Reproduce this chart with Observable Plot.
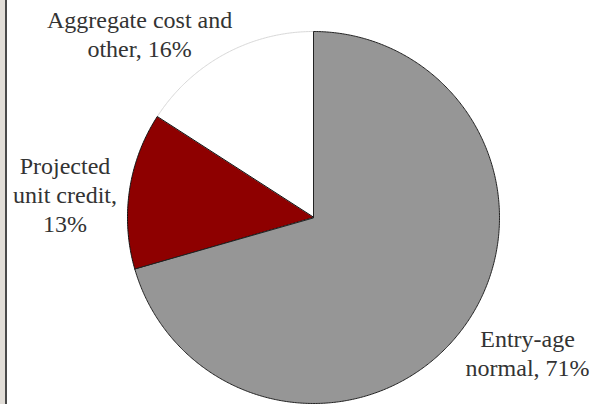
<!DOCTYPE html>
<html>
<head>
<meta charset="utf-8">
<script src="https://cdn.jsdelivr.net/npm/d3@7"></script>
<script src="https://cdn.jsdelivr.net/npm/@observablehq/plot@0.6"></script>
<style>
  html, body { margin: 0; padding: 0; background: #fff; }
  #wrap { position: relative; width: 594px; height: 404px; overflow: hidden; }
  #strip { position: absolute; left: 0; top: 0; width: 5px; height: 404px; background: #e2ded8; border-right: 2px solid #4a4a4a; }
  #chart { position: absolute; left: 0; top: 0; }
</style>
</head>
<body>
<div id="wrap"><div id="chart"></div><div id="strip"></div></div>
<script>
// Data (slice shares; labels as printed)
const categories = ["Entry-age normal", "Projected unit credit", "Aggregate cost and other"];
const shares = [70.5, 13.6, 15.9];
const labels = ["Entry-age\nnormal, 71%", "Projected\nunit credit,\n13%", "Aggregate cost and\nother, 16%"];
const colors = ["#969696", "#8e0000", "#ffffff"];
const strokes = ["#222", "#111", "#d8d8d8"];
// Label anchor positions (layout, in pie-radius units)
const labelX = [1.151, -1.336, -0.935];
const labelY = [-0.725, 0.127, 0.989];

const total = d3.sum(shares);
let acc = 0;
const slices = shares.map((v, i) => {
  const a0 = acc / total * 2 * Math.PI;
  acc += v;
  const a1 = acc / total * 2 * Math.PI;
  const pts = [{x: 0, y: 0, i}];
  const n = Math.max(2, Math.ceil((a1 - a0) / (Math.PI / 360)));
  for (let k = 0; k <= n; k++) {
    const a = a0 + (a1 - a0) * k / n;
    pts.push({x: Math.sin(a), y: Math.cos(a), i});
  }
  return pts;
});

const labelData = labels.map((t, i) => ({t, x: labelX[i], y: labelY[i]}));

const marks = [];
[2, 1, 0].forEach(i => {
  marks.push(Plot.line(slices[i], {
    x: "x", y: "y", curve: "linear-closed",
    fill: colors[i], stroke: strokes[i], strokeWidth: 1
  }));
});
marks.push(Plot.text(labelData, {
  x: "x", y: "y", text: "t", textAnchor: "middle",
  fontSize: 24, lineHeight: 1.19, fill: "#333",
  fontFamily: "'Liberation Serif', serif"
}));

const plot = Plot.plot({
  width: 594,
  height: 404,
  margin: 0,
  x: {domain: [-1, 1], range: [127, 499], axis: null},
  y: {domain: [-1, 1], range: [403, 31], axis: null},
  marks
});
document.getElementById("chart").appendChild(plot);
</script>
</body>
</html>
